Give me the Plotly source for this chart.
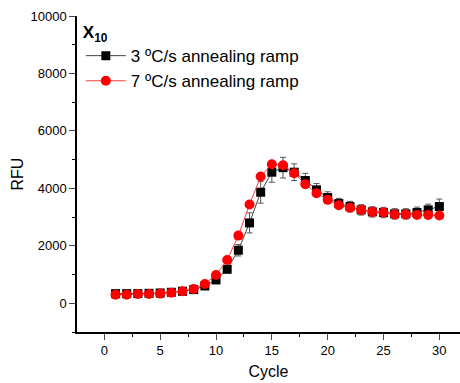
import plotly.graph_objects as go

cycles = list(range(1, 31))
rfu_3 = [335, 335, 336, 347, 359, 383, 418, 475, 603, 812, 1183, 1847, 2798, 3866, 4563,
         4720, 4563, 4273, 3948, 3680, 3471, 3367, 3251, 3181, 3158, 3111, 3111, 3158, 3251, 3367]
err_3 = [40, 40, 40, 40, 40, 40, 40, 50, 60, 80, 120, 200, 350, 380, 350,
         360, 290, 250, 220, 200, 180, 180, 180, 180, 180, 180, 180, 190, 200, 260]
rfu_7 = [301, 301, 324, 324, 336, 370, 418, 498, 673, 986, 1509, 2356, 3437, 4412, 4842,
         4807, 4528, 4146, 3832, 3600, 3414, 3321, 3251, 3181, 3158, 3088, 3088, 3077, 3077, 3053]

x_ticks = [0, 5, 10, 15, 20, 25, 30]
y_ticks = [0, 2000, 4000, 6000, 8000, 10000]
y_ticklabels = ["0", "2000", "4000", "6000", "8000", "10000"]

FONT = "Liberation Sans, Arial, sans-serif"

fig = go.Figure()
fig.add_trace(go.Scatter(
    x=cycles, y=rfu_3, mode="lines+markers", name="3 ºC/s annealing ramp",
    line=dict(color="#444444", width=1),
    marker=dict(symbol="square", size=9, color="black"),
    error_y=dict(type="data", array=err_3, visible=True, color="#555555", thickness=1, width=3),
))
fig.add_trace(go.Scatter(
    x=cycles, y=rfu_7, mode="lines+markers", name="7 ºC/s annealing ramp",
    line=dict(color="#ff3b3b", width=1),
    marker=dict(symbol="circle", size=10, color="#ff0000"),
))

fig.update_layout(
    width=460, height=383,
    margin=dict(l=77, r=0, t=16, b=51),
    plot_bgcolor="white", paper_bgcolor="white",
    font=dict(family=FONT, color="black", size=13),
    showlegend=True,
    legend=dict(
        x=0.01, y=1.0, xanchor="left", yanchor="top",
        bgcolor="rgba(0,0,0,0)",
        title=dict(text="<b>X<sub>10</sub></b>", font=dict(size=17, family=FONT)),
        font=dict(size=17, family=FONT),
        tracegroupgap=0, itemwidth=40,
    ),
    xaxis=dict(
        range=[-2.45, 31.85], tickvals=x_ticks, ticks="outside", ticklen=6, tickwidth=1.3,
        showline=True, linecolor="black", linewidth=1.5, showgrid=False, zeroline=False,
        tickfont=dict(size=13),
        title=dict(text="Cycle", font=dict(size=16), standoff=8),
        minor=dict(dtick=2.5, tick0=0, ticks="outside", ticklen=3, tickcolor="black", showgrid=False),
    ),
    yaxis=dict(
        range=[-1000, 10000], tickvals=y_ticks, ticktext=y_ticklabels,
        ticks="outside", ticklen=6, tickwidth=1.3,
        showline=True, linecolor="black", linewidth=1.5, showgrid=False, zeroline=False,
        tickfont=dict(size=13),
        title=dict(text="RFU", font=dict(size=16), standoff=3),
        minor=dict(dtick=1000, tick0=0, ticks="outside", ticklen=3, tickcolor="black", showgrid=False),
    ),
)

fig.write_html("out.html", config={"displayModeBar": False},
               post_script="document.body.style.margin='0';")
